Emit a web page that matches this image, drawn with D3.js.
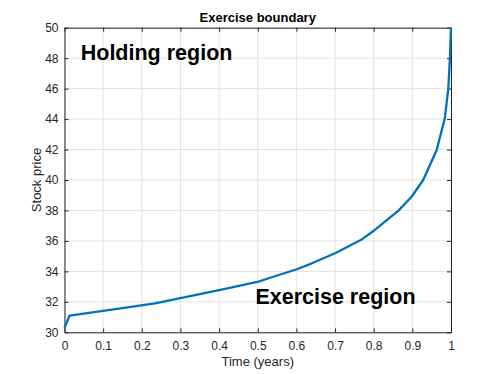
<!DOCTYPE html>
<html>
<head>
<meta charset="utf-8">
<script src="https://cdn.jsdelivr.net/npm/d3@7"></script>
<style>
  body { margin: 0; background: #fff; }
  svg { display: block; font-family: "Liberation Sans", Arial, sans-serif; }
</style>
</head>
<body>
<svg></svg>
<script>
// boundary
const times  = [0, 0.013, 0.1, 0.234, 0.3, 0.403, 0.502, 0.528, 0.601, 0.64, 0.7, 0.769, 0.803, 0.864, 0.898, 0.928, 0.963, 0.984, 0.993, 0.997, 1.0]
const prices = [30.3, 31.09, 31.4, 31.9, 32.24, 32.78, 33.33, 33.55, 34.14, 34.53, 35.19, 36.1, 36.72, 37.99, 38.9, 40.0, 41.97, 44.05, 46.0, 47.9, 50.0]
const xTicks = [0, 0.1, 0.2, 0.3, 0.4, 0.5, 0.6, 0.7, 0.8, 0.9, 1]
const yTicks = [30, 32, 34, 36, 38, 40, 42, 44, 46, 48, 50]

const svgWidth = 498
const svgHeight = 374
const plotLeft = 64.5, plotRight = 451, plotTop = 27.7, plotBottom = 332.3

const svg = d3.select('svg')
    .attr('width', svgWidth)
    .attr('height', svgHeight)

const xScale = d3.scaleLinear().domain([0, 1]).range([plotLeft, plotRight])
const yScale = d3.scaleLinear().domain([30, 50]).range([plotBottom, plotTop])

// grid
svg.append('g')
    .selectAll('line')
    .data(xTicks)
    .enter()
    .append('line')
    .attr('x1', d => xScale(d)).attr('x2', d => xScale(d))
    .attr('y1', plotTop).attr('y2', plotBottom)
    .attr('stroke', '#e3e3e3')
svg.append('g')
    .selectAll('line')
    .data(yTicks)
    .enter()
    .append('line')
    .attr('y1', d => yScale(d)).attr('y2', d => yScale(d))
    .attr('x1', plotLeft).attr('x2', plotRight)
    .attr('stroke', '#e3e3e3')

// axes (ticks inward, MATLAB box)
const styleAxis = (g) => {
    g.select('.domain').attr('stroke', '#262626')
    g.selectAll('.tick line').attr('stroke', '#262626')
    g.selectAll('text').attr('fill', '#262626').style('font-size', '12px')
}

const xAxis = d3.axisBottom(xScale).tickValues(xTicks).tickFormat(d3.format('')).tickSize(-4).tickSizeOuter(0).tickPadding(9)
svg.append('g')
    .attr('transform', 'translate(0,' + plotBottom + ')')
    .call(xAxis)
    .call(styleAxis)

const yAxis = d3.axisLeft(yScale).tickValues(yTicks).tickSize(-4).tickSizeOuter(0).tickPadding(6)
svg.append('g')
    .attr('transform', 'translate(' + plotLeft + ',0)')
    .call(yAxis)
    .call(styleAxis)

const xTop = d3.axisTop(xScale).tickValues(xTicks).tickFormat('').tickSize(-4).tickSizeOuter(0)
svg.append('g')
    .attr('transform', 'translate(0,' + plotTop + ')')
    .call(xTop)
    .call(styleAxis)

const yRight = d3.axisRight(yScale).tickValues(yTicks).tickFormat('').tickSize(-4).tickSizeOuter(0)
svg.append('g')
    .attr('transform', 'translate(' + plotRight + ',0)')
    .call(yRight)
    .call(styleAxis)

// boundary line
const line = d3.line()
    .x((d, i) => xScale(times[i]))
    .y(d => yScale(d))
svg.append('path')
    .datum(prices)
    .attr('d', line)
    .attr('fill', 'none')
    .attr('stroke', '#0072BD')
    .attr('stroke-width', 2.3)
    .attr('stroke-linejoin', 'round')

// labels
svg.append('text')
    .attr('x', (plotLeft + plotRight) / 2).attr('y', 21.7)
    .attr('text-anchor', 'middle')
    .style('font-size', '13px').style('font-weight', 'bold')
    .text('Exercise boundary')

svg.append('text')
    .attr('x', (plotLeft + plotRight) / 2).attr('y', 366)
    .attr('text-anchor', 'middle')
    .attr('fill', '#262626')
    .style('font-size', '13px')
    .text('Time (years)')

svg.append('text')
    .attr('transform', 'translate(40.5,' + ((plotTop + plotBottom) / 2) + ') rotate(-90)')
    .attr('text-anchor', 'middle')
    .attr('fill', '#262626')
    .style('font-size', '13px')
    .text('Stock price')

svg.append('text')
    .attr('x', xScale(0.042)).attr('y', yScale(47.9))
    .style('font-size', '21.5px').style('font-weight', 'bold')
    .text('Holding region')

svg.append('text')
    .attr('x', xScale(0.494)).attr('y', yScale(31.85))
    .style('font-size', '21.5px').style('font-weight', 'bold')
    .text('Exercise region')
</script>
</body>
</html>
